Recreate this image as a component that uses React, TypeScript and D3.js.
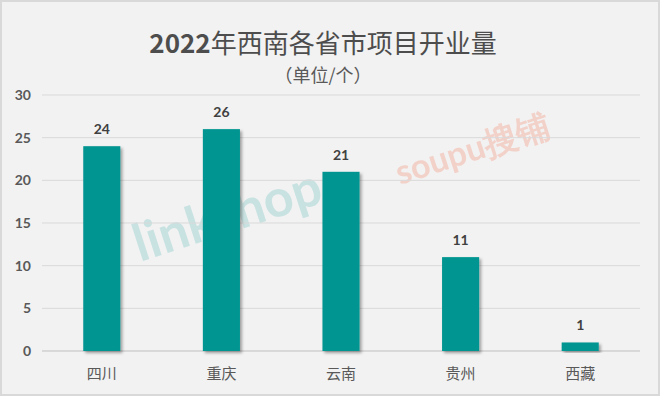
import { useEffect, useRef } from 'react';
import * as d3 from 'd3';

const provinces = ['四川', '重庆', '云南', '贵州', '西藏'];
const openings = [24, 26, 21, 11, 1];
const yTicks = [0, 5, 10, 15, 20, 25, 30];
const titleYear = '2022';
const titleRest = '年西南各省市项目开业量';
const subtitle = '（单位/个）';

const App = () => {
    const svgRef = useRef<SVGSVGElement>(null);

    useEffect(() => {
        document.body.style.margin = '0';
        const w = 660;
        const h = 396;
        const svg = d3.select(svgRef.current)
            .attr('width', w)
            .attr('height', h);
        svg.selectAll('*').remove();

        //background and frame
        svg.append('rect')
            .attr('x', 1).attr('y', 1)
            .attr('width', w - 2).attr('height', h - 2)
            .attr('fill', '#f2f2f2')
            .attr('stroke', '#d9d9d9')
            .attr('stroke-width', 2);

        const defs = svg.append('defs');
        const f = defs.append('filter').attr('id', 'shadow')
            .attr('x', '-20%').attr('y', '-10%').attr('width', '150%').attr('height', '130%');
        f.append('feDropShadow')
            .attr('dx', 2).attr('dy', 2).attr('stdDeviation', 1.5)
            .attr('flood-color', '#000').attr('flood-opacity', 0.35);

        //scales
        const xScale = d3.scaleBand()
            .domain(provinces)
            .range([42, 640])
            .paddingInner(0.69)
            .paddingOuter(0.345);
        const yScale = d3.scaleLinear()
            .domain([0, 30])
            .range([351, 95]);

        //title
        const t = svg.append('text')
            .attr('x', 323).attr('y', 53)
            .attr('text-anchor', 'middle')
            .attr('fill', '#4d4d4d')
            .style('font-family', '"Noto Sans CJK SC", sans-serif')
            .style('font-size', '26px');
        t.append('tspan').style('font-weight', 'bold').text(titleYear);
        t.append('tspan').text(titleRest);
        svg.append('text')
            .attr('x', 323).attr('y', 82)
            .attr('text-anchor', 'middle')
            .attr('fill', '#595959')
            .style('font-family', '"Noto Sans CJK SC", sans-serif')
            .style('font-size', '18px')
            .text(subtitle);

        //watermarks
        svg.append('text')
            .attr('x', 140).attr('y', 262)
            .attr('transform', 'rotate(-18 140 262)')
            .attr('fill', '#8cc9c9').attr('opacity', 0.4)
            .style('font-family', 'Lato, sans-serif')
            .style('font-weight', 'bold')
            .style('font-size', '52px')
            .text('linkshop');
        svg.append('text')
            .attr('x', 400).attr('y', 185)
            .attr('transform', 'rotate(-18 400 185)')
            .attr('fill', '#f2a08c').attr('opacity', 0.4)
            .style('font-family', 'Lato, sans-serif')
            .style('font-weight', 'bold')
            .style('font-size', '34px')
            .text('soupu搜铺');

        //gridlines
        svg.append('g')
            .selectAll('line')
            .data(yTicks)
            .enter()
            .append('line')
                .attr('x1', 42).attr('x2', 640)
                .attr('y1', d => yScale(d)).attr('y2', d => yScale(d))
                .attr('stroke', d => d === 0 ? '#bfbfbf' : '#d9d9d9')
                .attr('stroke-width', 1);

        //y tick labels
        svg.append('g')
            .selectAll('text')
            .data(yTicks)
            .enter()
            .append('text')
                .attr('x', 31)
                .attr('y', d => yScale(d) + 5)
                .attr('text-anchor', 'end')
                .attr('fill', '#595959')
                .style('font-family', 'Lato, sans-serif')
                .style('font-weight', 'bold')
                .style('font-size', '14px')
                .text(d => d);

        //bars
        svg.append('g')
            .selectAll('rect')
            .data(openings)
            .enter()
            .append('rect')
                .attr('x', (d, i) => xScale(provinces[i]) as number)
                .attr('y', d => yScale(d))
                .attr('width', xScale.bandwidth())
                .attr('height', d => yScale(0) - yScale(d))
                .attr('fill', '#009591')
                .attr('filter', 'url(#shadow)');

        //value labels
        svg.append('g')
            .selectAll('text')
            .data(openings)
            .enter()
            .append('text')
                .attr('x', (d, i) => (xScale(provinces[i]) as number) + xScale.bandwidth() / 2)
                .attr('y', d => yScale(d) - 12)
                .attr('text-anchor', 'middle')
                .attr('fill', '#404040')
                .style('font-family', 'Lato, sans-serif')
                .style('font-weight', 'bold')
                .style('font-size', '14px')
                .text(d => d);

        //category labels
        svg.append('g')
            .selectAll('text')
            .data(provinces)
            .enter()
            .append('text')
                .attr('x', d => (xScale(d) as number) + xScale.bandwidth() / 2)
                .attr('y', 379)
                .attr('text-anchor', 'middle')
                .attr('fill', '#595959')
                .style('font-family', '"Noto Sans CJK SC", sans-serif')
                .style('font-size', '15px')
                .text(d => d);
    }, []);

    return (
        <div>
            <svg ref={svgRef}></svg>
        </div>
    );
};

export default App;
